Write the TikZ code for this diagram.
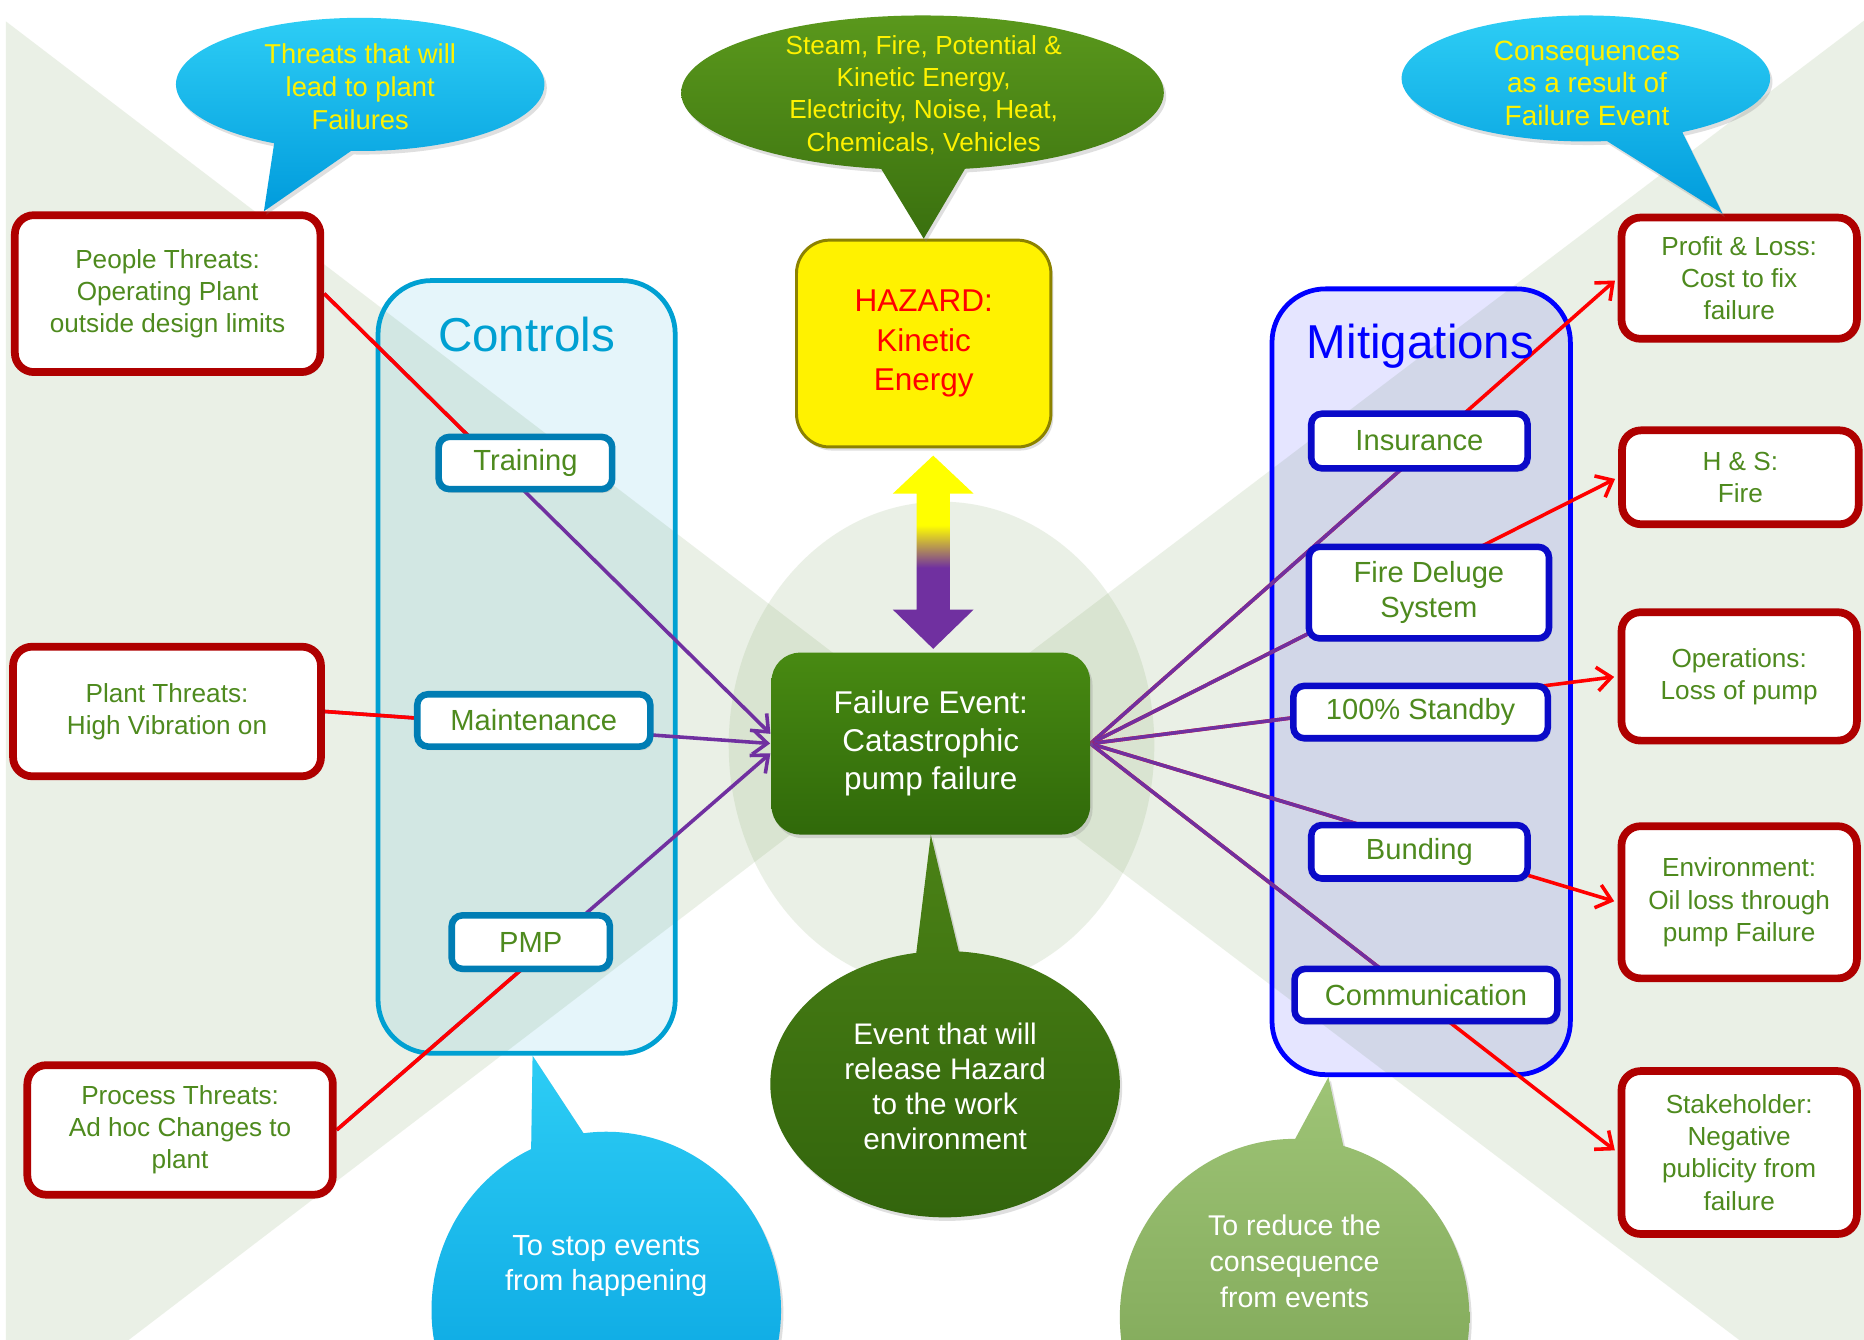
\documentclass[tikz,border=0pt]{standalone}
\usepackage{fontspec}
\setmainfont{Liberation Sans}
\usetikzlibrary{shapes.callouts,shadows,arrows.meta,calc}

% palette
\definecolor{linered}{RGB}{255,0,0}
\definecolor{linepurple}{RGB}{112,48,160}
\definecolor{txtgreen}{RGB}{78,138,30}
\definecolor{threatred}{RGB}{175,0,0}
\definecolor{ctlblue}{RGB}{0,160,210}
\definecolor{ctledge}{RGB}{0,125,180}
\definecolor{mitblue}{RGB}{0,0,255}
\definecolor{mitedge}{RGB}{10,10,200}
\definecolor{bowgreen}{RGB}{120,160,90}
\definecolor{cyantop}{RGB}{45,205,245}
\definecolor{cyanbot}{RGB}{0,155,220}
\definecolor{leaftop}{RGB}{90,152,28}
\definecolor{leafbot}{RGB}{58,112,15}
\definecolor{darkleaftop}{RGB}{75,130,22}
\definecolor{darkleafbot}{RGB}{50,100,12}
\definecolor{paletop}{RGB}{158,196,118}
\definecolor{palebot}{RGB}{120,160,80}
\definecolor{fetop}{RGB}{72,138,18}
\definecolor{febot}{RGB}{48,105,10}
\definecolor{hazedge}{RGB}{140,130,0}

\pgfdeclarelayer{backdrop}
\pgfdeclarelayer{links}
\pgfsetlayers{backdrop,links,main}

% yellow-to-purple fill of the hazard/event double arrow
\pgfdeclareverticalshading{hazardlink}{100bp}{color(0bp)=(linepurple); color(46bp)=(linepurple); color(57bp)=(yellow); color(100bp)=(yellow)}

\tikzset{
  softshadow/.style={drop shadow={shadow xshift=2pt, shadow yshift=-3pt, opacity=0.25}},
  threatbox/.style={draw=threatred, line width=6.5pt, fill=white, rounded corners=16pt,
    inner sep=0pt, align=center, text=txtgreen, font=\fontsize{22}{27}\selectfont, softshadow},
  barrier/.style={line width=5.5pt, fill=white, rounded corners=9pt, inner sep=0pt,
    align=center, text=txtgreen, font=\fontsize{24.5}{30}\selectfont, softshadow},
  controlbox/.style={barrier, draw=ctledge},
  mitbox/.style={barrier, draw=mitedge},
  container/.style={line width=4pt, rounded corners=45pt, inner sep=0pt, fill opacity=0.1},
  bubble/.style={ellipse callout, inner sep=0pt, softshadow},
  bubbletext/.style={align=center, inner sep=0pt},
  redlink/.style={draw=linered, line width=3pt},
  purplelink/.style={draw=linepurple, line width=3pt},
  barb/.style={-{Straight Barb[length=12pt,width=20pt]}},
}

\begin{document}
\begin{tikzpicture}[x=1pt,y=-1pt]
\useasboundingbox (0,0) rectangle (1568,1127);

% ---------- backdrop: bow-tie wedges, knot and barrier panels ----------
\begin{pgfonlayer}{backdrop}
  \fill[white] (0,0) rectangle (1568,1127);
  \fill[bowgreen, opacity=0.15] (5,18) -- (783,612) -- (5,1206) -- cycle;
  \fill[bowgreen, opacity=0.15] (1575,12) -- (783,612) -- (1575,1212) -- cycle;
  \fill[bowgreen, opacity=0.15] (792,627) ellipse [x radius=179, y radius=205];
  \node[container, draw=ctlblue, fill=ctlblue, minimum width=250pt, minimum height=650pt] (ctl) at (443,561) {};
  \node[container, draw=mitblue, fill=mitblue, minimum width=251pt, minimum height=661pt] (mit) at (1195.5,573.5) {};
\end{pgfonlayer}

\node[text=ctlblue, font=\fontsize{40}{48}\selectfont] (ctltitle) at (443,281) {Controls};
\node[text=mitblue, font=\fontsize{40}{48}\selectfont] (mittitle) at (1195,291) {Mitigations};

% ---------- threats ----------
\node[threatbox, minimum width=257pt, minimum height=132pt] (pt) at (141,247) {People Threats:\\Operating Plant\\outside design limits};
\node[threatbox, minimum width=259pt, minimum height=109pt] (plt) at (140.5,598.5) {Plant Threats:\\High Vibration on};
\node[threatbox, minimum width=257pt, minimum height=109pt] (prt) at (151.5,950.5) {Process Threats:\\Ad hoc Changes to\\plant};

% ---------- consequences ----------
\node[threatbox, minimum width=198pt, minimum height=102pt] (pl) at (1463,234) {Profit \& Loss:\\Cost to fix\\failure};
\node[threatbox, minimum width=199pt, minimum height=79pt] (hs) at (1464,401.5) {H \& S:\\Fire};
\node[threatbox, minimum width=198pt, minimum height=108pt] (op) at (1463,569) {Operations:\\Loss of pump};
\node[threatbox, minimum width=198pt, minimum height=128pt] (env) at (1463,759) {Environment:\\Oil loss through\\pump Failure};
\node[threatbox, minimum width=198pt, minimum height=137pt] (sh) at (1463,969.5) {Stakeholder:\\Negative\\publicity from\\failure};

% ---------- controls ----------
\node[controlbox, minimum width=146pt, minimum height=44pt] (tr) at (442,389.5) {Training};
\node[controlbox, minimum width=196pt, minimum height=44pt] (mt) at (449,606) {Maintenance};
\node[controlbox, minimum width=133pt, minimum height=45pt] (pmp) at (446.5,792.5) {PMP};

% ---------- mitigations ----------
\node[mitbox, minimum width=182pt, minimum height=46pt] (ins) at (1194,371) {Insurance};
\node[mitbox, minimum width=202pt, minimum height=77pt] (fd) at (1202,498.5) {Fire Deluge\\System};
\node[mitbox, minimum width=214pt, minimum height=44pt] (sb) at (1195,599) {100\% Standby};
\node[mitbox, minimum width=182pt, minimum height=45pt] (bd) at (1194,716.5) {Bunding};
\node[mitbox, minimum width=221pt, minimum height=44pt] (com) at (1199.5,837) {Communication};

% ---------- hazard and top event ----------
\node[draw=hazedge, line width=2.5pt, fill=yellow, rounded corners=28pt, minimum width=214pt,
  minimum height=174pt, inner sep=0pt, align=center, text=red,
  font=\fontsize{26.5}{33}\selectfont, softshadow] (hz) at (777,289) {HAZARD:\\Kinetic\\Energy};
\node[top color=fetop, bottom color=febot, rounded corners=24pt, minimum width=268pt,
  minimum height=153pt, inner sep=0pt, align=center, text=white,
  font=\fontsize{26.5}{32}\selectfont, softshadow] (fe) at (783,625.5) {Failure Event:\\Catastrophic\\pump failure};

% double arrow between hazard and top event
\coordinate (hzlink) at ($(hz.south)+(8,6)$);
\coordinate (felink) at ($(fe.north)+(2,-3)$);
\shade[shading=hazardlink] (hzlink) -- ($(hzlink)+(34,32)$) -- ($(hzlink)+(14,32)$)
  -- ($(felink)+(14,-33)$) -- ($(felink)+(34,-33)$) -- (felink) -- ($(felink)+(-34,-33)$)
  -- ($(felink)+(-14,-33)$) -- ($(hzlink)+(-14,32)$) -- ($(hzlink)+(-34,32)$) -- cycle;

% ---------- connectors ----------
\coordinate (fein1) at ([yshift=7.5pt]fe.west);
\coordinate (fein3) at ([yshift=-7.5pt]fe.west);
\begin{pgfonlayer}{links}
  % threats through controls into the top event
  \draw[purplelink, barb, shorten >=1pt] (pt.east) -- (fein1);
  \draw[redlink] (pt.east) -- ($(pt.east)!0.38!(fein1)$);
  \draw[purplelink, barb, shorten >=1pt] (plt.east) -- (fe.west);
  \draw[redlink] (plt.east) -- ($(plt.east)!0.47!(fe.west)$);
  \draw[purplelink, barb, shorten >=1pt] (prt.east) -- (fein3);
  \draw[redlink] (prt.east) -- ($(prt.east)!0.5!(fein3)$);
  % top event through mitigations to the consequences
  \draw[redlink, barb, shorten >=3pt] (fe.east) -- (pl.west);
  \draw[purplelink] (fe.east) -- ($(fe.east)!0.65!(pl.west)$);
  \draw[redlink, barb, shorten >=3pt] (fe.east) -- (hs.west);
  \draw[purplelink] (fe.east) -- ($(fe.east)!0.567!(hs.west)$);
  \draw[redlink, barb, shorten >=3pt] (fe.east) -- (op.west);
  \draw[purplelink] (fe.east) -- ($(fe.east)!0.62!(op.west)$);
  \draw[redlink, barb, shorten >=3pt] (fe.east) -- (env.west);
  \draw[purplelink] (fe.east) -- ($(fe.east)!0.62!(env.west)$);
  \draw[redlink, barb, shorten >=3pt] (fe.east) -- (sh.west);
  \draw[purplelink] (fe.east) -- ($(fe.east)!0.615!(sh.west)$);
\end{pgfonlayer}

% ---------- speech bubbles ----------
\node[bubble, top color=leaftop, bottom color=leafbot, minimum width=406pt, minimum height=130pt,
  callout pointer arc=20, callout absolute pointer={(hz.north)}] (steam) at (776,78) {};
\node[bubbletext, text=yellow, font=\fontsize{22}{27}\selectfont] (steamtxt) at (777,80)
  {Steam, Fire, Potential \&\\Kinetic Energy,\\Electricity, Noise, Heat,\\Chemicals, Vehicles};

\node[bubble, top color=cyantop, bottom color=cyanbot, minimum width=310pt, minimum height=112pt,
  callout pointer arc=25, callout absolute pointer={($(pt.north)+(81,0)$)}] (thr) at (303,71) {};
\node[bubbletext, text=yellow, font=\fontsize{23}{28}\selectfont] (thrtxt) at (303,73)
  {Threats that will\\lead to plant\\Failures};

\node[bubble, top color=cyantop, bottom color=cyanbot, minimum width=310pt, minimum height=106pt,
  callout pointer arc=25, callout absolute pointer={($(pl.north)+(-14,0)$)}] (cons) at (1334,66) {};
\node[bubbletext, text=yellow, font=\fontsize{23.5}{27.5}\selectfont] (constxt) at (1335,70)
  {Consequences\\as a result of\\Failure Event};

\node[bubble, top color=darkleaftop, bottom color=darkleafbot, minimum width=294pt, minimum height=224pt,
  callout pointer arc=14, callout absolute pointer={(fe.south)}] (evt) at (795,912) {};
\node[bubbletext, text=white, font=\fontsize{25}{29.5}\selectfont] (evttxt) at (795,914)
  {Event that will\\release Hazard\\to the work\\environment};

\node[bubble, top color=cyantop, bottom color=cyanbot, minimum width=294pt, minimum height=300pt,
  callout pointer arc=18, callout absolute pointer={($(ctl.south)+(5,0)$)}] (stop) at (510,1102) {};
\node[bubbletext, text=white, font=\fontsize{24.5}{30}\selectfont] (stoptxt) at (510,1065)
  {To stop events\\from happening};

\node[bubble, top color=paletop, bottom color=palebot, minimum width=294pt, minimum height=300pt,
  callout pointer arc=16, callout absolute pointer={($(mit.south)+(-78,0)$)}] (rdc) at (1089,1108) {};
\node[bubbletext, text=white, font=\fontsize{24}{30}\selectfont] (rdctxt) at (1089,1061)
  {To reduce the\\consequence\\from events};

\end{tikzpicture}
\end{document}
